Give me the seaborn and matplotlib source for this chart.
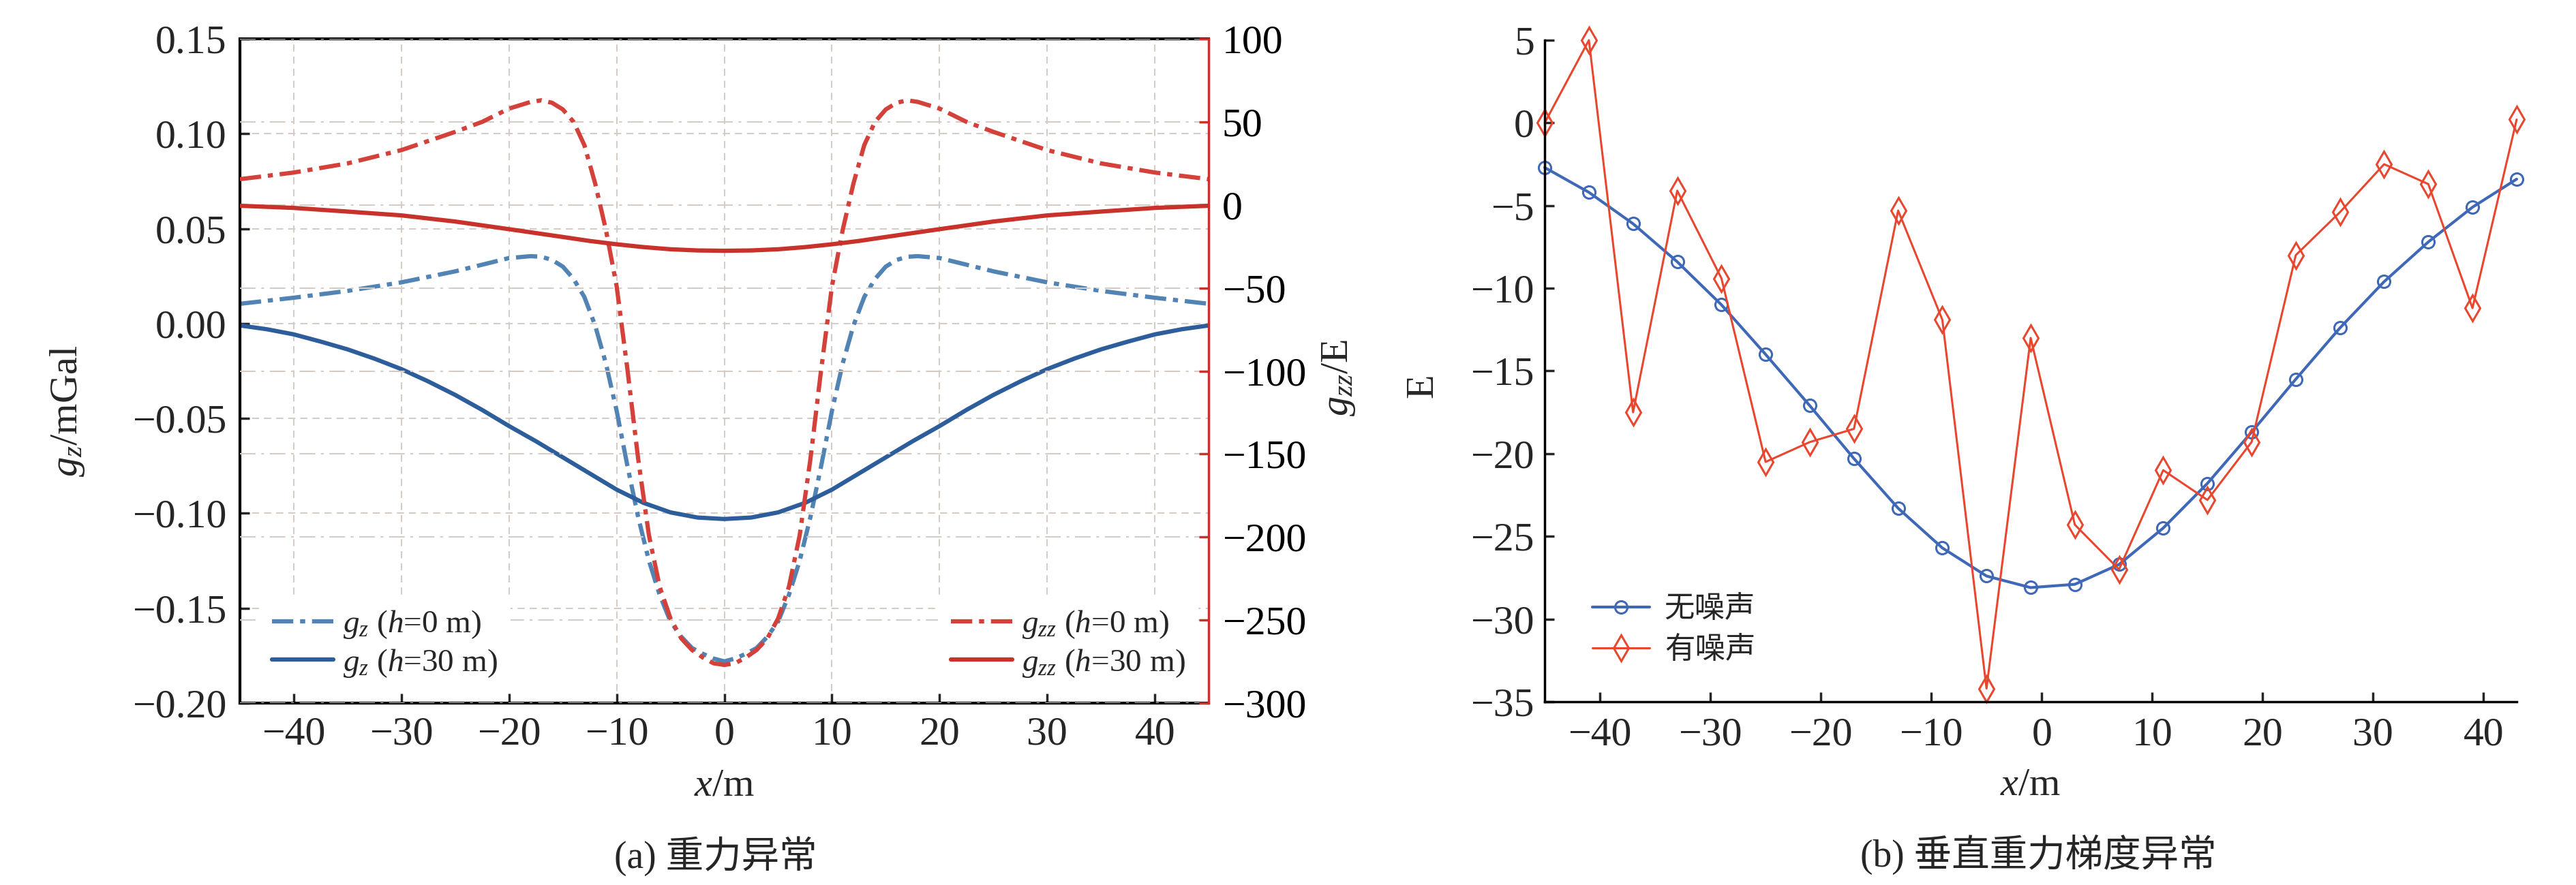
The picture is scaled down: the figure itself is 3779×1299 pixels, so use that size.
import seaborn as sns
import matplotlib.pyplot as plt
from matplotlib.ticker import MultipleLocator, FuncFormatter

# ---- (a) 重力异常：图上读取的数据 ----
x_gz30 = [-45, -42.5, -40, -37.5, -35, -32.5, -30, -27.5, -25, -22.5, -20, -17.5, -15, -12.5, -10, -7.5, -5, -2.5, 0,
          2.5, 5, 7.5, 10, 12.5, 15, 17.5, 20, 22.5, 25, 27.5, 30, 32.5, 35, 37.5, 40, 42.5, 45]
gz30 = [-0.001, -0.003, -0.0057, -0.0095, -0.0136, -0.0185, -0.024, -0.0305, -0.0376, -0.0455, -0.054, -0.062,
        -0.0705, -0.079, -0.0875, -0.0945, -0.0995, -0.1022, -0.103,
        -0.1022, -0.0995, -0.0945, -0.0875, -0.079, -0.0705, -0.062, -0.054, -0.0455, -0.0376, -0.0305, -0.024,
        -0.0185, -0.0136, -0.0095, -0.0057, -0.003, -0.001]

x_gz0 = [-45, -40, -35, -30, -25, -20, -18, -17, -16, -15, -14, -13, -12, -11, -10, -9, -8, -7, -6, -5, -4, -3, -2, -1, 0,
         1, 2, 3, 4, 5, 6, 7, 8, 9, 10, 11, 12, 13, 14, 15, 16, 17, 18, 20, 25, 30, 35, 40, 45]
gz0 = [0.0104, 0.0136, 0.0172, 0.0217, 0.0275, 0.0345, 0.0355, 0.0352, 0.0335, 0.030, 0.0235, 0.014, -0.001, -0.021,
       -0.046, -0.075, -0.102, -0.125, -0.143, -0.157, -0.165, -0.171, -0.174, -0.1765, -0.178,
       -0.1765, -0.174, -0.171, -0.165, -0.157, -0.143, -0.125, -0.102, -0.075, -0.046, -0.021, -0.001, 0.014,
       0.0235, 0.030, 0.0335, 0.0352, 0.0355, 0.0345, 0.0275, 0.0217, 0.0172, 0.0136, 0.0104]

x_gzz0 = [-45, -40, -35, -30, -25, -22.5, -20, -18, -17, -16, -15, -14, -13, -12, -11, -10, -9, -8, -7, -6, -5, -4, -3,
          -2, -1, 0, 1, 2, 3, 4, 5, 6, 7, 8, 9, 10, 11, 12, 13, 14, 15, 16, 17, 18, 20, 22.5, 25, 30, 35, 40, 45]
gzz0 = [15.5, 19.5, 25, 33, 44, 50, 58, 62, 63, 61.5, 57.5, 50, 36, 13, -15, -49, -99, -153, -199, -230, -249, -261,
        -268, -272.5, -276, -277, -276, -272.5, -268, -261, -249, -230, -199, -153, -99, -49, -15, 13, 36, 50, 57.5,
        61.5, 63, 62, 58, 50, 44, 33, 25, 19.5, 15.5]

x_gzz30 = [-45, -40, -35, -30, -25, -20, -15, -12.5, -10, -7.5, -5, -2.5, 0,
           2.5, 5, 7.5, 10, 12.5, 15, 20, 25, 30, 35, 40, 45]
gzz30 = [-0.5, -1.8, -4, -6.3, -10, -14.6, -19.3, -21.7, -23.7, -25.4, -26.7, -27.4, -27.6,
         -27.4, -26.7, -25.4, -23.7, -21.7, -19.3, -14.6, -10, -6.3, -4, -1.8, -0.5]

# ---- (b) 垂直重力梯度异常 ----
x_b = [-45, -41, -37, -33, -29, -25, -21, -17, -13, -9, -5, -1, 3, 7, 11, 15, 19, 23, 27, 31, 35, 39, 43]
clean = [-2.7, -4.2, -6.1, -8.4, -11.0, -14.0, -17.1, -20.3, -23.3, -25.7, -27.4, -28.1, -27.9, -26.7, -24.5,
         -21.8, -18.7, -15.5, -12.4, -9.6, -7.2, -5.1, -3.4]
noisy = [0.0, 5.0, -17.5, -4.1, -9.4, -20.5, -19.3, -18.5, -5.3, -11.9, -34.2, -13.0, -24.3, -27.0, -21.0, -22.8,
         -19.3, -8.0, -5.4, -2.5, -3.7, -11.2, 0.2]

sns.set_style("ticks")
plt.rcParams['font.family'] = ['Liberation Serif', 'Noto Sans CJK SC']
plt.rcParams['mathtext.fontset'] = 'custom'
plt.rcParams['mathtext.rm'] = 'Liberation Serif'
plt.rcParams['mathtext.it'] = 'Liberation Serif:italic'
plt.rcParams['axes.unicode_minus'] = True

TICK = 43
LAB = 42
GRID = '#d6ccc6'
dashdot = (0, (5, 1.6, 1.2, 1.6))

fig = plt.figure(figsize=(37.8, 12.99), dpi=100)
ax = fig.add_axes([0.0931, 0.2055, 0.3760, 0.7506])
ax2 = ax.twinx()

# 左轴 g_z
sns.lineplot(x=x_gz0, y=gz0, ax=ax, color='#5283b5', linewidth=4.5, linestyle=dashdot,
             errorbar=None, label=r'$g_z$ ($h$=0 m)', legend=False)
sns.lineplot(x=x_gz30, y=gz30, ax=ax, color='#2d5d9b', linewidth=4.5,
             errorbar=None, label=r'$g_z$ ($h$=30 m)', legend=False)
# 右轴 g_zz
sns.lineplot(x=x_gzz0, y=gzz0, ax=ax2, color='#d4403a', linewidth=4.5, linestyle=dashdot,
             errorbar=None, label=r'$g_{zz}$ ($h$=0 m)', legend=False)
sns.lineplot(x=x_gzz30, y=gzz30, ax=ax2, color='#c8322a', linewidth=4.5,
             errorbar=None, label=r'$g_{zz}$ ($h$=30 m)', legend=False)

ax.set_xlim(-45, 45)
ax.set_ylim(-0.20, 0.15)
ax2.set_ylim(-300, 100)
ax.xaxis.set_major_locator(MultipleLocator(10))
ax.yaxis.set_major_locator(MultipleLocator(0.05))
ax2.yaxis.set_major_locator(MultipleLocator(50))
ax.yaxis.set_major_formatter(FuncFormatter(lambda v, _: f'{round(v, 2) + 0:.2f}'.replace('-', '\u2212')))

ax.grid(True, color=GRID, linewidth=1.5, linestyle=(0, (5, 3.5)))
ax2.grid(True, axis='y', color=GRID, linewidth=1.5, linestyle=(0, (11, 4, 2, 4)))
ax.set_axisbelow(True)

for s in ['left', 'top', 'bottom']:
    ax.spines[s].set_linewidth(3)
    ax.spines[s].set_color('black')
    ax2.spines[s].set_visible(False)
ax.spines['right'].set_visible(False)
ax2.spines['right'].set_color('#c8322a')
ax2.spines['right'].set_linewidth(2.5)

ax.tick_params(axis='both', direction='in', length=10, width=2.5, labelsize=TICK, top=False, right=False)
ax.tick_params(axis='y', pad=14)
ax.tick_params(axis='x', pad=14)
ax2.tick_params(axis='y', direction='in', length=10, width=2.5, labelsize=TICK, color='#c8322a',
                labelcolor='black', pad=14)

ax.set_xlabel(r'$x$/m', fontsize=LAB)
ax.xaxis.set_label_coords(0.5, -0.098)
ax.set_ylabel(r'$g_z$/mGal', fontsize=LAB)
ax.yaxis.set_label_coords(-0.158, 0.44)
ax2.set_ylabel(r'$g_{zz}$/E', fontsize=LAB, rotation=90)
ax2.yaxis.set_label_coords(1.115, 0.49)

h_blue = ax.get_lines()[:2]
h_red = ax2.get_lines()[:2]
leg_kw = dict(fontsize=34, handlelength=1.9, handletextpad=0.3, labelspacing=0.2, borderpad=0.4,
              borderaxespad=0, loc='lower left', frameon=True, fancybox=False, framealpha=1,
              facecolor='white', edgecolor='none')
leg1 = ax2.legend(handles=h_blue, bbox_to_anchor=(0.02, 0.017), **leg_kw)
ax2.add_artist(leg1)
ax2.legend(handles=h_red, bbox_to_anchor=(0.7207, 0.017), **leg_kw)

# ---- (b) ----
axb = fig.add_axes([0.5995, 0.2071, 0.3772, 0.7475])
sns.lineplot(x=x_b, y=clean, ax=axb, color='#3f68b6', linewidth=3, marker='o', markersize=13,
             markerfacecolor='none', markeredgecolor='#3f68b6', markeredgewidth=2.2,
             errorbar=None, label='无噪声', legend=False, clip_on=False)
sns.lineplot(x=x_b, y=noisy, ax=axb, color='#e8472f', linewidth=2.2, marker='d', markersize=19,
             markerfacecolor='none', markeredgecolor='#e8472f', markeredgewidth=2.2,
             errorbar=None, label='有噪声', legend=False, clip_on=False)
axb.set_xlim(-45, 43)
axb.set_ylim(-35, 5)
axb.xaxis.set_major_locator(MultipleLocator(10))
axb.yaxis.set_major_locator(MultipleLocator(5))
sns.despine(ax=axb)
for s in ['left', 'bottom']:
    axb.spines[s].set_linewidth(2.5)
    axb.spines[s].set_color('black')
axb.tick_params(axis='both', direction='in', length=10, width=2.5, labelsize=TICK)
axb.tick_params(axis='y', pad=11)
axb.tick_params(axis='x', pad=16)
axb.set_xlabel(r'$x$/m', fontsize=LAB)
axb.xaxis.set_label_coords(0.5, -0.099)
axb.set_ylabel('E', fontsize=LAB)
axb.yaxis.set_label_coords(-0.107, 0.478)
axb.legend(handles=axb.get_lines()[:2], fontsize=32, handlelength=1.9, handletextpad=0.48,
           labelspacing=0.43, borderpad=0.4, borderaxespad=0, loc='lower left',
           bbox_to_anchor=(0.0365, 0.038), frameon=False)

fig.text(0.2778, 0.0323, '(a) 重力异常', fontsize=40, ha='center', va='center')
fig.text(0.791, 0.034, '(b) 垂直重力梯度异常', fontsize=40, ha='center', va='center')

fig.savefig('out.png', dpi=100, facecolor='white')
